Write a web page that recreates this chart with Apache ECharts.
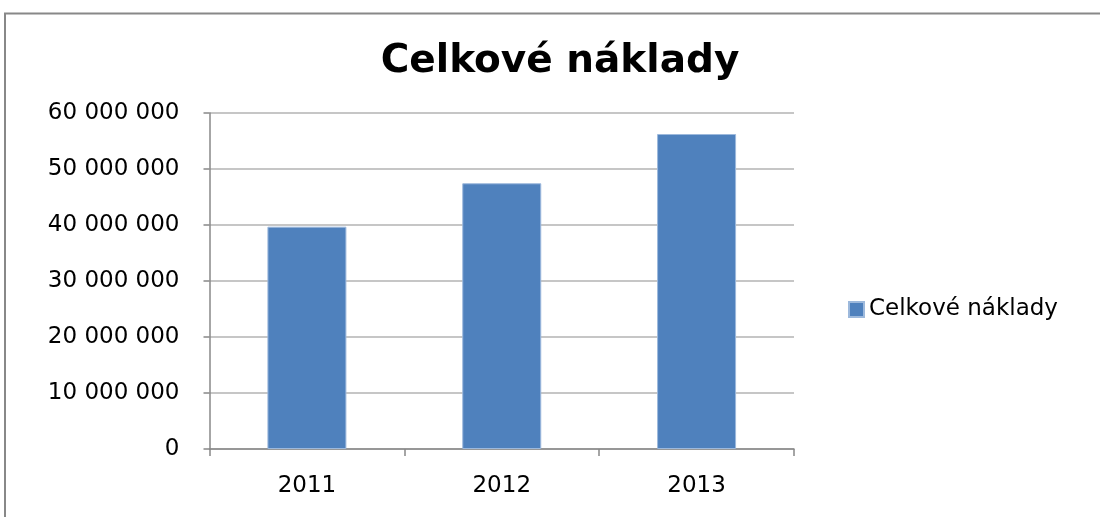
<!DOCTYPE html>
<html>
<head>
<meta charset="utf-8">
<script src="https://cdn.jsdelivr.net/npm/echarts@6/dist/echarts.min.js"></script>
<style>html,body{margin:0;padding:0;background:#fff;}#c{width:1100px;height:517px;}</style>
</head>
<body>
<div id="c"></div>
<script>
var titleText = 'Celkové náklady';
var seriesName = 'Celkové náklady';
var categories = ['2011', '2012', '2013'];
var values = [39700000, 47450000, 56250000];
var yTicks = [0, 10000000, 20000000, 30000000, 40000000, 50000000, 60000000];

function fmt(v) {
  return String(v).replace(/\B(?=(\d{3})+(?!\d))/g, ' ');
}

var chart = echarts.init(document.getElementById('c'));
chart.setOption({
  animation: false,
  backgroundColor: '#ffffff',
  graphic: [{
    type: 'line',
    shape: { x1: 4, y1: 13.5, x2: 1100, y2: 13.5 },
    style: { stroke: '#888888', lineWidth: 2 },
    silent: true, z: 0
  }, {
    type: 'line',
    shape: { x1: 5, y1: 13, x2: 5, y2: 517 },
    style: { stroke: '#888888', lineWidth: 2 },
    silent: true, z: 0
  }],
  title: {
    text: titleText,
    left: 555, top: 37, textAlign: 'center',
    textStyle: { fontFamily: 'DejaVu Sans', fontWeight: 'bold', fontSize: 39, color: '#000' }
  },
  legend: {
    data: [seriesName],
    left: 843, top: 293,
    icon: 'rect', itemWidth: 15, itemHeight: 15, itemGap: 8,
    textStyle: { fontFamily: 'DejaVu Sans', fontSize: 23, color: '#000' }
  },
  grid: { left: 209.5, right: 306, top: 113, bottom: 68, containLabel: false },
  xAxis: {
    type: 'category',
    data: categories,
    boundaryGap: true,
    axisLine: { lineStyle: { color: '#888888', width: 1.5 } },
    axisTick: { show: true, length: 7, alignWithLabel: false, lineStyle: { color: '#888888', width: 1.5 } },
    axisLabel: { margin: 26, fontFamily: 'DejaVu Sans', fontSize: 23, color: '#000' },
    splitLine: { show: false }
  },
  yAxis: {
    type: 'value',
    min: 0, max: 60000000, interval: 10000000,
    axisLine: { show: true, lineStyle: { color: '#888888', width: 1.5 } },
    axisTick: { show: true, length: 6, lineStyle: { color: '#888888', width: 1.5 } },
    axisLabel: { margin: 30, fontFamily: 'DejaVu Sans', fontSize: 23, color: '#000',
      formatter: function (v) { return fmt(v); } },
    splitLine: { show: true, lineStyle: { color: '#b3b3b3', width: 1.5 } }
  },
  series: [{
    name: seriesName,
    type: 'bar',
    data: values,
    barWidth: 79,
    itemStyle: { color: '#4F81BD', borderColor: '#9DB9DC', borderWidth: 1 }
  }]
});
</script>
</body>
</html>
